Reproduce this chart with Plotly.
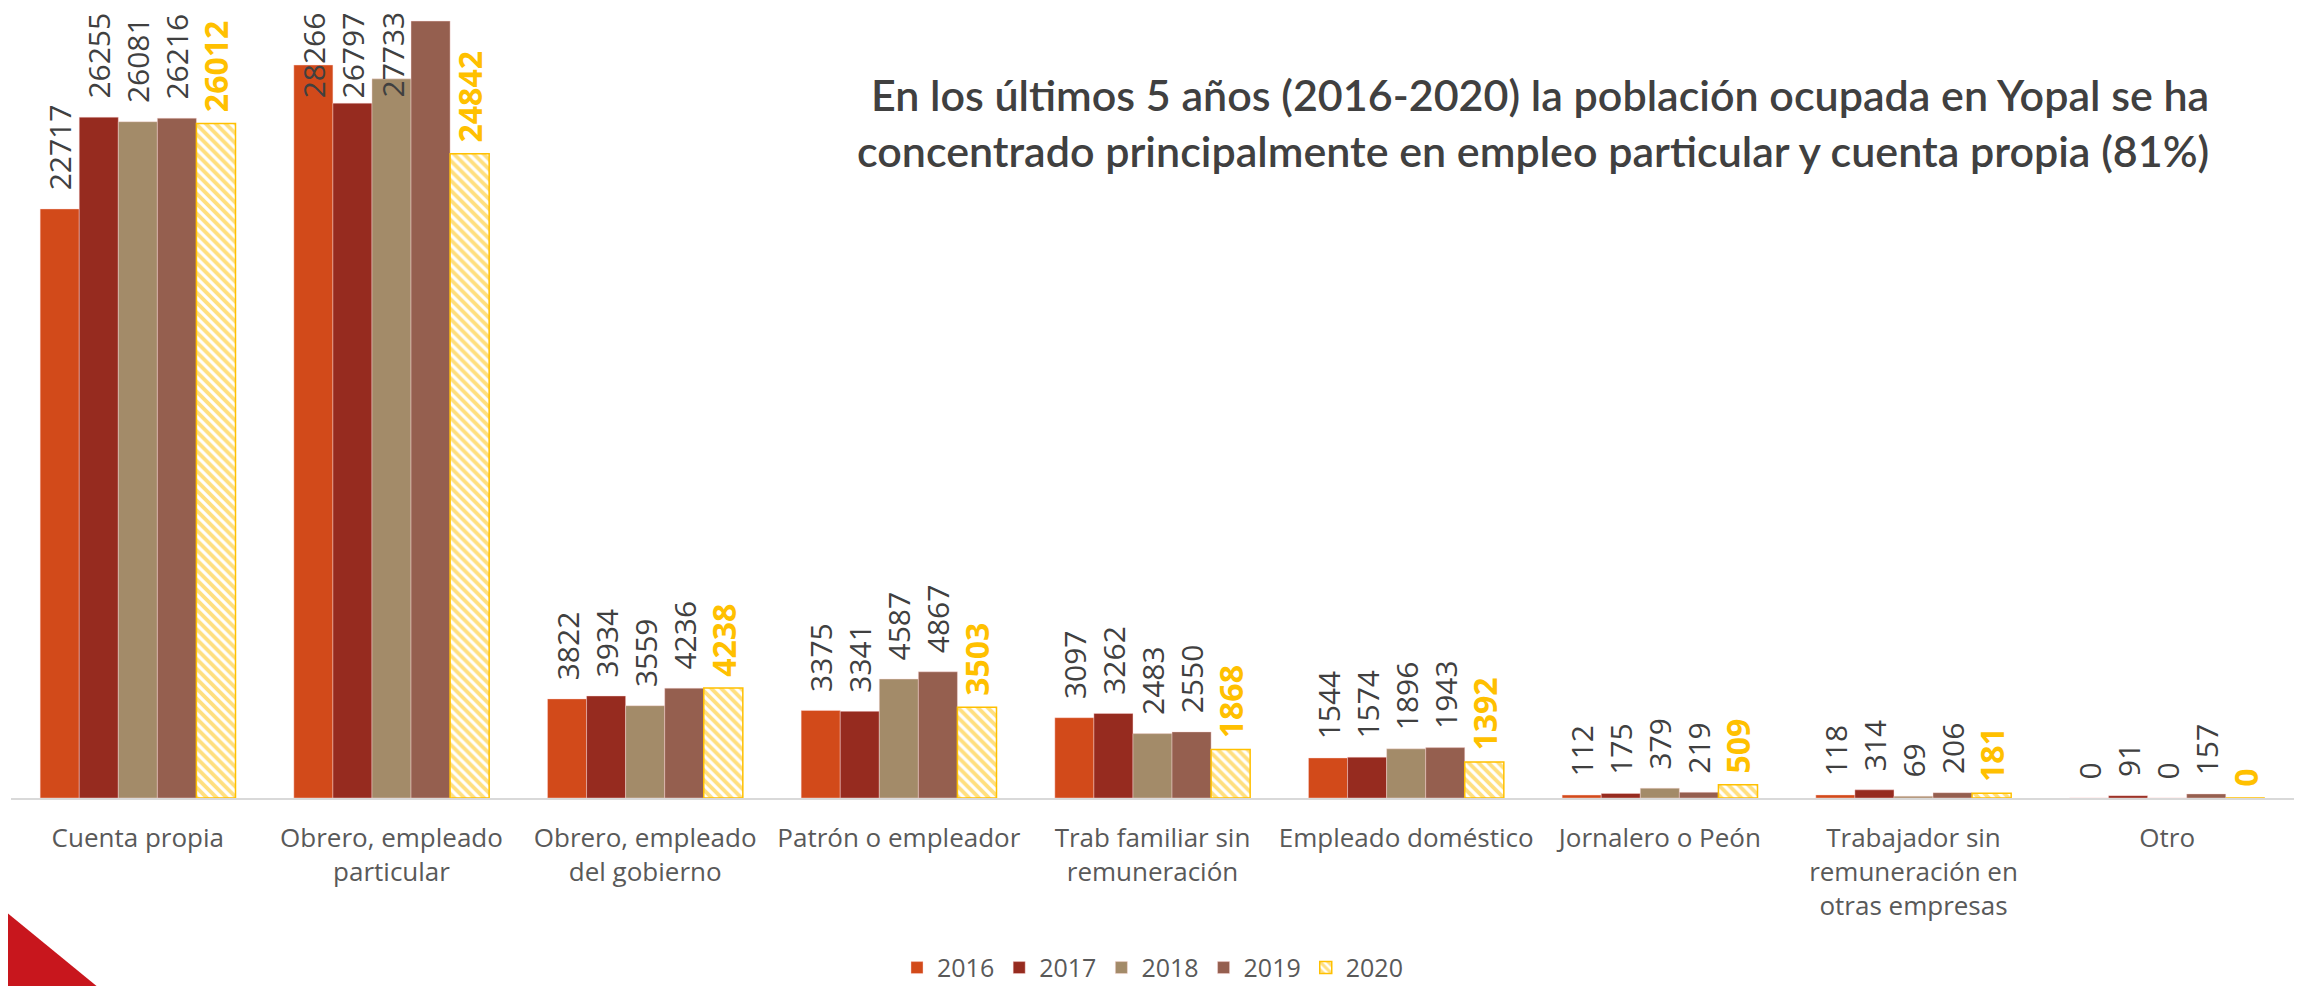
import plotly.graph_objects as go

categories = [
    "Cuenta propia",
    "Obrero, empleado<br>particular",
    "Obrero, empleado<br>del gobierno",
    "Patrón o empleador",
    "Trab familiar sin<br>remuneración",
    "Empleado doméstico",
    "Jornalero o Peón",
    "Trabajador sin<br>remuneración en<br>otras empresas",
    "Otro",
]
years = ["2016", "2017", "2018", "2019", "2020"]
v2016 = [22717, 28266, 3822, 3375, 3097, 1544, 112, 118, 0]
v2017 = [26255, 26797, 3934, 3341, 3262, 1574, 175, 314, 91]
v2018 = [26081, 27733, 3559, 4587, 2483, 1896, 379, 69, 0]
v2019 = [26216, 29960, 4236, 4867, 2550, 1943, 219, 206, 157]
v2020 = [26012, 24842, 4238, 3503, 1868, 1392, 509, 181, 0]
series = [v2016, v2017, v2018, v2019, v2020]

colors = ["#D24A1A", "#962B1F", "#A38B69", "#955F4F", "#FFC000"]
LABEL_GRAY = "#404040"
TICK_GRAY = "#595959"
BARGAP = 0.23

# labels Excel pinned to the top edge in the "Obrero, empleado particular" group
pinned = {0: 1, 1: 1, 2: 1}
hidden = {3: 1}

fig = go.Figure()
for j, (yr, vals, col) in enumerate(zip(years, series, colors)):
    pad = "\u00a0" if yr == "2020" else "\u00a0\u00a0"
    texts = []
    for i, v in enumerate(vals):
        if pinned.get(j) == i or hidden.get(j) == i:
            texts.append("")
        else:
            texts.append(pad + str(v))
    if yr == "2020":
        marker = dict(color="white", line=dict(color=col, width=1.5),
                      pattern=dict(shape="\\", fgcolor=col, bgcolor="white",
                                   size=7, solidity=0.55))
        tfont = dict(family="Open Sans", size=32, color=col, weight="bold")
    else:
        marker = dict(color=col, line=dict(color="rgba(255,220,220,0.6)", width=0.7))
        tfont = dict(family="Open Sans", size=30, color=LABEL_GRAY)
    fig.add_trace(go.Bar(
        x=categories, y=vals, name=yr, marker=marker,
        text=texts, textposition="outside", textangle=-90,
        textfont=tfont, constraintext="none", cliponaxis=False,
    ))

w = (1 - BARGAP) / len(years)
for j, i in pinned.items():
    fig.add_annotation(
        x=i + (j - 2) * w, y=1, xref="x", yref="paper", yshift=-2,
        text=str(series[j][i]), textangle=-90, showarrow=False,
        yanchor="top", xanchor="center",
        font=dict(family="Open Sans", size=30, color=LABEL_GRAY),
    )

fig.add_annotation(
    x=0.9636, y=0.925, xref="paper", yref="paper",
    xanchor="right", yanchor="top", align="right", showarrow=False,
    text="En los últimos 5 años (2016-2020) la población ocupada en Yopal se ha<br>"
         "concentrado principalmente en empleo particular y cuenta propia (81%)",
    font=dict(family="Lato", size=43, color=LABEL_GRAY, weight=600),
)

# red corner decoration
fig.add_shape(type="path", xref="paper", yref="paper",
              path="M -0.0101,-0.1256 L 0.0377,-0.2385 L -0.0101,-0.2385 Z",
              fillcolor="#C8161D", line=dict(width=0), layer="above")

fig.update_layout(
    width=2295, height=978,
    template="plotly_white",
    paper_bgcolor="white", plot_bgcolor="white",
    barmode="group", bargap=BARGAP, bargroupgap=0,
    margin=dict(l=3, r=9, t=0, b=188, autoexpand=False),
    font=dict(family="Open Sans", color=TICK_GRAY),
    xaxis=dict(showline=True, linecolor="#D9D9D9", linewidth=2, automargin=False,
               showgrid=False, ticks="", tickfont=dict(size=26, color=TICK_GRAY),
               tickangle=0, ticklabelstandoff=16),
    yaxis=dict(visible=False, range=[0, 30466], showgrid=False, automargin=False),
    legend=dict(orientation="h", x=0.5, xanchor="center", y=-0.215,
                yanchor="middle", font=dict(size=25, color=TICK_GRAY),
                itemwidth=30, traceorder="normal"),
    showlegend=True,
)

fig.write_html("out.html")
